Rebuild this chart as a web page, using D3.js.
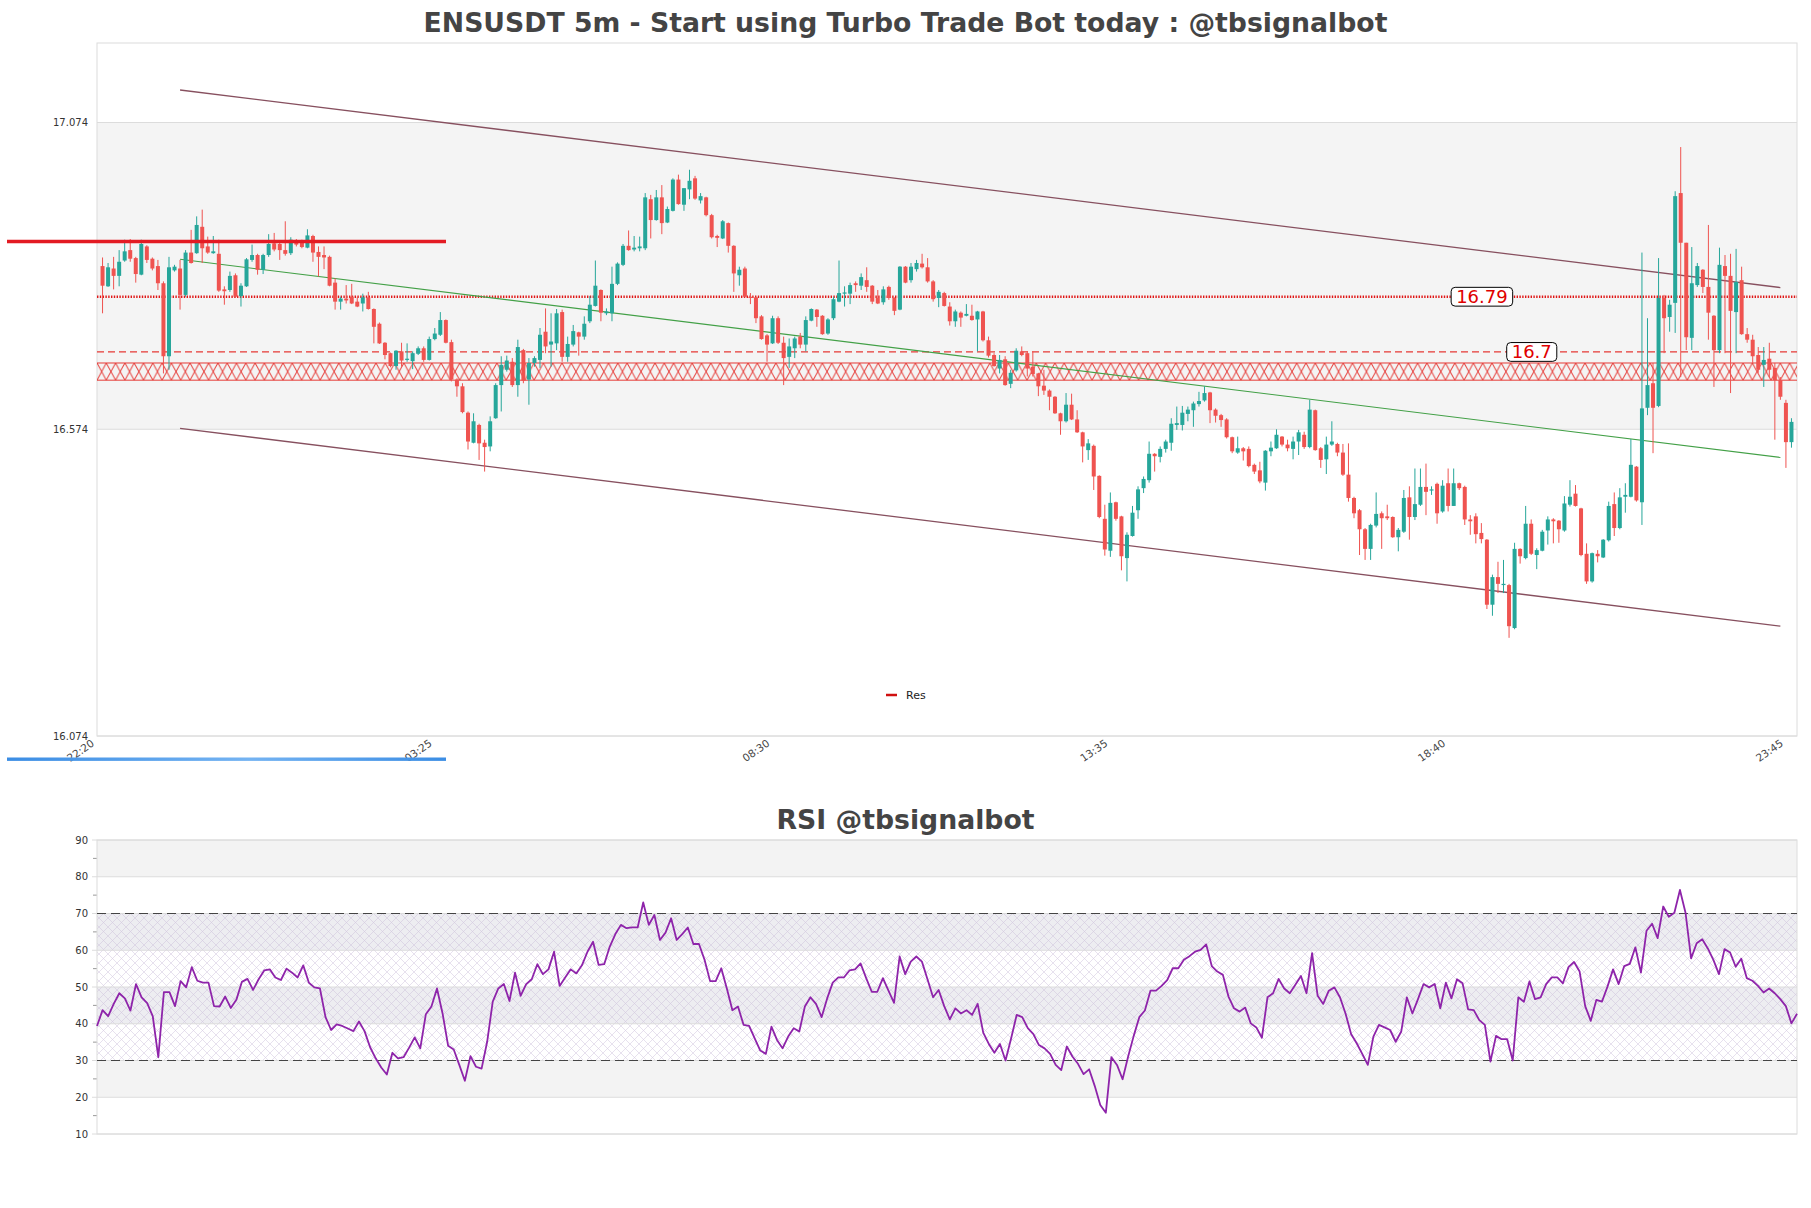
<!DOCTYPE html>
<html><head><meta charset="utf-8">
<script src="https://cdnjs.cloudflare.com/ajax/libs/d3/7.8.5/d3.min.js"></script>
<style>
html,body{margin:0;padding:0;background:#fff;}
svg{display:block;font-family:"DejaVu Sans",sans-serif;}
</style></head><body>
<svg id="c" width="1811" height="1208"></svg>
<script>
// ---------- DATA ----------
const tickLabels = ["22:20","03:25","08:30","13:35","18:40","23:45"];
const tickIndex  = [-1, 60, 121, 182, 243, 304];
const priceTicks = [16.074, 16.574, 17.074];

const opens = [
16.840,16.807,16.836,16.824,16.849,16.866,16.853,16.826,16.872,16.852,
16.840,16.812,16.693,16.833,16.836,16.793,16.862,16.861,16.904,16.872,
16.861,16.860,16.802,16.801,16.825,16.791,16.807,16.850,16.858,16.834,
16.858,16.877,16.876,16.866,16.861,16.882,16.878,16.870,16.889,16.863,
16.858,16.855,16.813,16.782,16.787,16.790,16.782,16.779,16.789,16.770,
16.746,16.715,16.698,16.677,16.701,16.687,16.685,16.697,16.706,16.687,
16.721,16.728,16.752,16.716,16.655,16.644,16.601,16.552,16.581,16.552,
16.546,16.592,16.646,16.671,16.684,16.646,16.703,16.655,16.682,16.687,
16.733,16.712,16.714,16.765,16.692,16.712,16.732,16.725,16.750,16.775,
16.801,16.763,16.763,16.811,16.842,16.873,16.867,16.869,16.869,16.949,
16.915,16.952,16.911,16.930,16.981,16.940,16.965,16.983,16.947,16.952,
16.923,16.889,16.885,16.910,16.873,16.825,16.836,16.790,16.789,16.758,
16.727,16.714,16.755,16.715,16.692,16.706,16.725,16.712,16.751,16.769,
16.759,16.730,16.755,16.782,16.795,16.795,16.812,16.808,16.817,16.808,
16.788,16.781,16.806,16.788,16.769,16.839,16.817,16.835,16.844,16.838,
16.815,16.788,16.796,16.774,16.750,16.764,16.759,16.759,16.753,16.766,
16.719,16.695,16.673,16.688,16.648,16.670,16.701,16.698,16.676,16.665,
16.645,16.637,16.627,16.600,16.587,16.614,16.590,16.569,16.540,16.547,
16.498,16.428,16.376,16.455,16.432,16.364,16.400,16.442,16.478,16.491,
16.534,16.529,16.542,16.552,16.581,16.581,16.599,16.605,16.615,16.621,
16.634,16.606,16.597,16.590,16.561,16.536,16.543,16.542,16.516,16.507,
16.487,16.538,16.543,16.562,16.549,16.542,16.554,16.565,16.545,16.605,
16.543,16.525,16.549,16.550,16.536,16.500,16.462,16.442,16.411,16.379,
16.417,16.437,16.432,16.431,16.398,16.407,16.463,16.431,16.451,16.480,
16.475,16.485,16.440,16.486,16.449,16.486,16.480,16.427,16.432,16.405,
16.394,16.288,16.333,16.320,16.320,16.250,16.379,16.364,16.420,16.369,
16.376,16.409,16.427,16.425,16.409,16.451,16.469,16.445,16.371,16.326,
16.371,16.365,16.393,16.452,16.413,16.464,16.464,16.513,16.455,16.609,
16.649,16.612,16.788,16.757,16.780,16.959,16.878,16.723,16.809,16.834,
16.806,16.759,16.703,16.840,16.824,16.765,16.817,16.729,16.720,16.695,
16.679,16.689,16.674,16.654,16.617,16.553];

const highs = [
16.854,16.845,16.855,16.866,16.883,16.884,16.855,16.883,16.874,16.854,
16.850,16.815,16.855,16.842,16.850,16.866,16.899,16.921,16.932,16.888,
16.889,16.883,16.807,16.831,16.828,16.812,16.853,16.875,16.860,16.860,
16.892,16.894,16.880,16.913,16.887,16.884,16.883,16.900,16.891,16.872,
16.872,16.857,16.820,16.790,16.809,16.811,16.790,16.795,16.798,16.771,
16.748,16.716,16.699,16.703,16.715,16.714,16.701,16.709,16.709,16.725,
16.739,16.765,16.753,16.720,16.657,16.649,16.603,16.600,16.583,16.557,
16.595,16.649,16.693,16.694,16.690,16.720,16.705,16.690,16.693,16.739,
16.771,16.763,16.770,16.769,16.725,16.744,16.733,16.758,16.791,16.849,
16.802,16.771,16.839,16.846,16.876,16.898,16.889,16.888,16.959,16.956,
16.964,16.972,16.937,16.983,16.989,16.967,16.997,16.987,16.959,16.953,
16.925,16.891,16.915,16.911,16.874,16.839,16.839,16.796,16.790,16.760,
16.729,16.759,16.758,16.725,16.722,16.725,16.731,16.758,16.771,16.770,
16.760,16.755,16.790,16.849,16.807,16.813,16.815,16.828,16.838,16.809,
16.801,16.807,16.808,16.789,16.840,16.840,16.845,16.850,16.860,16.853,
16.817,16.801,16.798,16.781,16.769,16.766,16.778,16.777,16.767,16.767,
16.725,16.698,16.695,16.693,16.671,16.706,16.709,16.701,16.701,16.666,
16.671,16.639,16.628,16.601,16.633,16.632,16.605,16.570,16.558,16.549,
16.499,16.451,16.471,16.456,16.433,16.406,16.449,16.481,16.497,16.554,
16.535,16.546,16.557,16.592,16.611,16.612,16.611,16.619,16.635,16.644,
16.635,16.608,16.599,16.592,16.562,16.562,16.545,16.546,16.518,16.521,
16.540,16.554,16.574,16.563,16.557,16.562,16.573,16.570,16.622,16.606,
16.545,16.562,16.587,16.552,16.550,16.551,16.464,16.444,16.413,16.420,
16.471,16.440,16.451,16.432,16.413,16.475,16.481,16.510,16.510,16.518,
16.481,16.487,16.491,16.510,16.510,16.487,16.482,16.434,16.437,16.421,
16.395,16.337,16.358,16.361,16.322,16.389,16.380,16.449,16.427,16.380,
16.410,16.432,16.429,16.426,16.465,16.491,16.483,16.446,16.388,16.373,
16.377,16.395,16.456,16.471,16.478,16.486,16.558,16.514,16.862,16.755,
16.682,16.853,16.793,16.785,16.962,17.034,16.878,16.871,16.845,16.835,
16.907,16.760,16.870,16.858,16.860,16.868,16.839,16.739,16.728,16.708,
16.708,16.715,16.682,16.659,16.622,16.592];

const lows = [
16.763,16.806,16.802,16.807,16.847,16.847,16.813,16.825,16.845,16.833,
16.801,16.665,16.671,16.831,16.769,16.790,16.844,16.860,16.845,16.860,
16.860,16.798,16.777,16.798,16.788,16.774,16.806,16.847,16.826,16.827,
16.855,16.864,16.850,16.857,16.858,16.872,16.869,16.869,16.847,16.823,
16.835,16.807,16.769,16.769,16.779,16.778,16.773,16.766,16.769,16.714,
16.713,16.688,16.675,16.671,16.676,16.684,16.672,16.695,16.684,16.686,
16.719,16.726,16.714,16.652,16.627,16.600,16.541,16.551,16.524,16.505,
16.538,16.591,16.603,16.668,16.643,16.627,16.649,16.614,16.676,16.674,
16.698,16.676,16.703,16.684,16.684,16.709,16.694,16.720,16.747,16.774,
16.750,16.760,16.750,16.809,16.840,16.865,16.864,16.864,16.866,16.885,
16.914,16.892,16.910,16.929,16.940,16.930,16.949,16.948,16.942,16.921,
16.885,16.871,16.884,16.862,16.798,16.808,16.789,16.778,16.747,16.720,
16.684,16.713,16.713,16.646,16.674,16.690,16.706,16.701,16.750,16.741,
16.728,16.728,16.752,16.781,16.774,16.778,16.798,16.801,16.798,16.778,
16.778,16.777,16.785,16.760,16.768,16.812,16.813,16.831,16.836,16.813,
16.782,16.773,16.774,16.743,16.741,16.741,16.758,16.751,16.701,16.717,
16.691,16.676,16.665,16.645,16.641,16.668,16.693,16.660,16.660,16.628,
16.630,16.605,16.599,16.565,16.585,16.589,16.568,16.520,16.524,16.475,
16.429,16.368,16.366,16.425,16.344,16.326,16.399,16.428,16.470,16.487,
16.505,16.520,16.536,16.539,16.573,16.572,16.587,16.578,16.611,16.619,
16.584,16.585,16.578,16.559,16.535,16.534,16.523,16.512,16.501,16.486,
16.474,16.530,16.542,16.546,16.538,16.525,16.532,16.542,16.543,16.539,
16.511,16.501,16.547,16.530,16.498,16.456,16.429,16.369,16.361,16.361,
16.414,16.379,16.426,16.397,16.375,16.405,16.394,16.426,16.449,16.434,
16.467,16.420,16.438,16.440,16.449,16.475,16.418,16.402,16.388,16.388,
16.281,16.270,16.307,16.307,16.234,16.248,16.355,16.362,16.369,16.346,
16.375,16.386,16.388,16.389,16.407,16.448,16.448,16.367,16.322,16.324,
16.357,16.364,16.391,16.400,16.411,16.438,16.463,16.456,16.418,16.597,
16.535,16.610,16.698,16.733,16.731,16.659,16.703,16.703,16.806,16.796,
16.720,16.643,16.698,16.698,16.633,16.698,16.728,16.715,16.682,16.666,
16.643,16.659,16.557,16.622,16.511,16.544];

const closes = [
16.808,16.838,16.824,16.847,16.864,16.852,16.827,16.876,16.850,16.836,
16.812,16.693,16.838,16.839,16.793,16.862,16.845,16.907,16.869,16.862,
16.864,16.800,16.799,16.824,16.790,16.808,16.851,16.858,16.834,16.858,
16.876,16.867,16.866,16.860,16.883,16.875,16.871,16.890,16.862,16.855,
16.854,16.808,16.782,16.787,16.784,16.779,16.774,16.789,16.770,16.741,
16.714,16.695,16.677,16.702,16.686,16.689,16.698,16.706,16.687,16.721,
16.730,16.752,16.715,16.655,16.644,16.602,16.554,16.587,16.551,16.545,
16.587,16.646,16.679,16.686,16.646,16.708,16.653,16.682,16.690,16.728,
16.709,16.717,16.763,16.692,16.713,16.734,16.725,16.746,16.777,16.808,
16.764,16.766,16.811,16.844,16.873,16.866,16.870,16.872,16.952,16.915,
16.952,16.910,16.933,16.981,16.941,16.967,16.979,16.950,16.954,16.923,
16.887,16.886,16.913,16.873,16.828,16.834,16.790,16.788,16.755,16.721,
16.712,16.755,16.715,16.690,16.709,16.722,16.712,16.752,16.770,16.757,
16.729,16.753,16.786,16.796,16.797,16.809,16.809,16.822,16.806,16.782,
16.779,16.802,16.788,16.767,16.839,16.813,16.839,16.845,16.838,16.815,
16.786,16.798,16.775,16.750,16.766,16.756,16.762,16.752,16.766,16.719,
16.694,16.677,16.687,16.646,16.666,16.702,16.695,16.673,16.664,16.644,
16.637,16.627,16.600,16.587,16.614,16.590,16.569,16.546,16.551,16.497,
16.431,16.378,16.454,16.428,16.367,16.402,16.438,16.476,16.493,16.534,
16.530,16.542,16.554,16.583,16.584,16.601,16.606,16.616,16.620,16.633,
16.605,16.596,16.589,16.561,16.538,16.543,16.538,16.514,16.505,16.489,
16.539,16.544,16.565,16.549,16.543,16.554,16.569,16.545,16.606,16.540,
16.524,16.549,16.554,16.536,16.500,16.462,16.437,16.411,16.379,16.418,
16.436,16.429,16.429,16.398,16.410,16.462,16.431,16.452,16.480,16.472,
16.476,16.437,16.482,16.449,16.486,16.478,16.427,16.424,16.403,16.395,
16.288,16.333,16.322,16.322,16.253,16.379,16.367,16.420,16.371,16.377,
16.407,16.427,16.424,16.411,16.453,16.464,16.449,16.369,16.326,16.372,
16.367,16.394,16.449,16.413,16.463,16.467,16.516,16.458,16.608,16.646,
16.609,16.788,16.755,16.777,16.954,16.878,16.724,16.812,16.840,16.806,
16.764,16.703,16.842,16.824,16.767,16.814,16.729,16.720,16.693,16.671,
16.687,16.671,16.654,16.627,16.553,16.586];

const rsi = [
39.4,43.7,42.1,45.4,48.3,46.9,43.6,50.8,47.2,45.6,
42.1,30.9,48.6,48.6,44.8,51.6,49.9,55.4,51.7,51.2,
51.2,44.8,44.7,47.4,44.3,46.5,51.4,52.2,49.2,52.1,
54.5,54.8,52.6,51.9,55.0,53.9,52.6,55.9,51.2,49.9,
49.6,41.8,38.3,39.8,39.4,38.7,38.0,40.6,38.0,33.6,
30.6,28.1,26.2,32.1,30.6,30.9,33.5,36.3,33.3,42.6,
44.7,49.6,42.8,34.0,33.0,28.8,24.5,31.2,28.3,27.8,
35.1,46.0,49.6,50.8,46.2,53.9,47.6,50.8,52.1,56.2,
53.5,54.8,59.6,50.3,52.6,54.8,53.7,55.9,59.6,62.3,
56.0,56.2,61.0,64.4,66.9,66.0,66.2,66.2,73.0,66.9,
69.6,62.8,64.8,68.7,62.8,64.4,66.2,61.7,61.7,57.4,
51.6,51.6,55.1,49.6,43.7,44.7,39.7,39.4,36.0,32.7,
31.8,39.2,35.6,33.3,36.5,38.8,37.9,44.7,47.2,45.4,
41.8,46.9,51.2,52.6,52.6,54.5,54.8,56.4,52.4,48.7,
48.7,52.4,49.0,45.7,58.3,53.5,56.9,58.3,56.9,52.1,
47.2,49.2,44.8,41.2,44.2,42.8,43.7,42.4,45.4,37.6,
34.5,32.1,34.5,30.0,36.0,42.4,41.8,38.8,37.2,34.2,
33.3,31.8,28.8,27.4,33.8,31.1,29.1,26.3,27.6,23.1,
17.9,15.8,30.9,28.8,24.9,31.1,36.7,41.8,43.6,49.0,
49.0,50.3,51.9,55.1,55.1,57.4,58.4,59.6,60.1,61.6,
55.7,54.2,53.3,47.4,44.2,43.3,44.4,40.1,39.0,36.2,
47.2,48.3,52.2,49.6,48.3,50.6,53.0,48.3,59.2,47.6,
45.4,49.0,49.9,47.2,42.8,37.2,34.7,31.8,28.8,36.5,
39.7,39.0,38.3,35.1,37.9,47.2,42.8,46.7,50.8,49.9,
50.8,44.2,51.2,46.9,52.1,51.0,43.9,43.7,41.0,39.7,
29.7,36.7,35.8,35.8,30.0,47.2,46.0,51.5,46.7,47.2,
50.8,52.6,52.6,51.0,55.4,56.8,54.2,44.8,40.8,46.5,
46.0,50.1,54.8,50.8,55.7,56.3,60.8,53.9,65.3,67.2,
63.3,71.9,69.1,70.2,76.4,70.2,57.8,61.9,63.0,60.5,
57.4,53.5,60.3,59.4,55.5,57.7,52.4,51.7,50.3,48.5,
49.6,48.3,46.7,44.8,40.1,42.7];

// annotation values
const resLevels   = [16.79, 16.7];
const resLabels   = ["16.79", "16.7"];
const zoneBounds  = [16.654, 16.682];
const channelUpper = [[14, 17.127], [303, 16.805]];
const channelLower = [[14, 16.5755], [303, 16.253]];
const trendLine    = [[14, 16.851], [303, 16.528]];
const rsiTicks = [10,20,30,40,50,60,70,80,90];
const rsiBands = [[80,90,"#f3f3f3"],[60,70,"#ededf1"],[40,50,"#ededf1"],[20,30,"#f3f3f3"]];

// ---------- LAYOUT ----------
const svg = d3.select("#c");
const P = {l:97, r:1797, t:43, b:736};
const Q = {t:840, b:1134};
const N = closes.length;

const x  = d3.scaleLinear().domain([-1, 306]).range([P.l, P.r]);
const y  = d3.scaleLinear().domain([16.074, 17.2036]).range([P.b, P.t]);
const xr = d3.scaleLinear().domain([0, rsi.length - 1]).range([P.l, P.r]);
const yr = d3.scaleLinear().domain([10, 90]).range([Q.b, Q.t]);

const defs = svg.append("defs");
const zTop = y(zoneBounds[1]), zBot = y(zoneBounds[0]), zH = zBot - zTop;
const zp = defs.append("pattern").attr("id","zoneHatch").attr("patternUnits","userSpaceOnUse")
  .attr("x", P.l).attr("y", zTop).attr("width", 9.3).attr("height", zH);
zp.append("path").attr("d", `M0,0L9.3,${zH}M9.3,0L0,${zH}`).attr("stroke","#e53935").attr("stroke-width",1).attr("fill","none");
const rp = defs.append("pattern").attr("id","rsiHatch").attr("patternUnits","userSpaceOnUse")
  .attr("width", 9).attr("height", 9);
rp.append("path").attr("d","M0,0L9,9M9,0L0,9").attr("stroke","#c9bcd8").attr("stroke-width",0.6).attr("fill","none");
const bg = defs.append("linearGradient").attr("id","blueGrad");
bg.append("stop").attr("offset","0%").attr("stop-color","#3b8de4");
bg.append("stop").attr("offset","55%").attr("stop-color","#74b3f2");
bg.append("stop").attr("offset","100%").attr("stop-color","#3b8de4");

// ---------- TITLES ----------
svg.append("text").attr("x", 905.5).attr("y", 32).attr("text-anchor","middle")
  .attr("font-size", 26.7).attr("font-weight","bold").attr("fill","#444")
  .text("ENSUSDT 5m - Start using Turbo Trade Bot today : @tbsignalbot");
svg.append("text").attr("x", 905.5).attr("y", 829).attr("text-anchor","middle")
  .attr("font-size", 26.7).attr("font-weight","bold").attr("fill","#444")
  .text("RSI @tbsignalbot");

// ---------- MAIN PLOT ----------
const g = svg.append("g");
g.append("rect").attr("x",P.l).attr("y",P.t).attr("width",P.r-P.l).attr("height",P.b-P.t).attr("fill","#fff");
g.append("rect").attr("x",P.l).attr("y",y(priceTicks[2])).attr("width",P.r-P.l)
  .attr("height", y(priceTicks[1]) - y(priceTicks[2])).attr("fill","#f4f4f4");
priceTicks.forEach(v => {
  g.append("line").attr("x1",P.l).attr("x2",P.r).attr("y1",y(v)).attr("y2",y(v))
   .attr("stroke","#dcdcdc").attr("stroke-width",1);
  g.append("text").attr("x", 88).attr("y", y(v)).attr("dy","0.35em").attr("text-anchor","end")
   .attr("font-size",10).attr("fill","#333").text(v.toFixed(3));
});
g.append("rect").attr("x",P.l).attr("y",P.t).attr("width",P.r-P.l).attr("height",P.b-P.t)
  .attr("fill","none").attr("stroke","#dcdcdc").attr("stroke-width",1);

g.append("rect").attr("x",P.l).attr("y",zTop).attr("width",P.r-P.l).attr("height",zH).attr("fill","url(#zoneHatch)");
[zTop, zBot].forEach(yy => g.append("line").attr("x1",P.l).attr("x2",P.r).attr("y1",yy).attr("y2",yy)
  .attr("stroke","#e53935").attr("stroke-width",1));

g.append("line").attr("x1",P.l).attr("x2",P.r).attr("y1",y(resLevels[0])).attr("y2",y(resLevels[0]))
  .attr("stroke","#e01818").attr("stroke-width",2.6).attr("stroke-dasharray","1.4,1.4");
g.append("line").attr("x1",P.l).attr("x2",P.r).attr("y1",y(resLevels[1])).attr("y2",y(resLevels[1]))
  .attr("stroke","#e53935").attr("stroke-width",1.3).attr("stroke-dasharray","7,4");

const lineGen = d3.line().x(d => x(d[0])).y(d => y(d[1]));
g.append("path").attr("d", lineGen(channelUpper)).attr("stroke","#87505f").attr("stroke-width",1.3).attr("fill","none");
g.append("path").attr("d", lineGen(channelLower)).attr("stroke","#87505f").attr("stroke-width",1.3).attr("fill","none");
g.append("path").attr("d", lineGen(trendLine)).attr("stroke","#43a047").attr("stroke-width",1.1).attr("fill","none");

const up = "#26a69a", dn = "#ef5350";
const cg = g.append("g");
d3.range(N).forEach(i => {
  const o = opens[i], c = closes[i], col = c >= o ? up : dn;
  const cx = x(i);
  cg.append("line").attr("x1",cx).attr("x2",cx).attr("y1",y(highs[i])).attr("y2",y(lows[i]))
    .attr("stroke",col).attr("stroke-width",1);
  const yt = y(Math.max(o,c)), yb = y(Math.min(o,c));
  cg.append("rect").attr("x",cx-2).attr("y",yt).attr("width",4).attr("height",Math.max(1.2, yb-yt)).attr("fill",col);
});

function labelBox(txt, cx, cy) {
  const t = g.append("text").attr("x",cx).attr("y",cy).attr("dy","0.36em").attr("text-anchor","middle")
    .attr("font-size",18).attr("fill","#e00000").text(txt);
  const bb = t.node().getBBox();
  g.insert("rect", () => t.node()).attr("x",bb.x-5).attr("y",cy-9.4).attr("width",bb.width+10).attr("height",18.8)
    .attr("rx",4).attr("fill","#fff").attr("stroke","#000").attr("stroke-width",1);
}
labelBox(resLabels[0], x(249.1), y(resLevels[0]));
labelBox(resLabels[1], x(258.1), y(resLevels[1]));

g.append("line").attr("x1",886).attr("x2",897).attr("y1",695).attr("y2",695).attr("stroke","#d01010").attr("stroke-width",2.5);
g.append("text").attr("x",906).attr("y",695).attr("dy","0.35em").attr("font-size",11).attr("fill","#222").text("Res");

tickIndex.forEach((ti, k) => {
  svg.append("text").attr("text-anchor","end").attr("font-size",10.5).attr("fill","#444")
    .attr("transform", `translate(${x(ti)-2},745) rotate(-35)`).text(tickLabels[k]);
});

svg.append("line").attr("x1",7).attr("x2",446).attr("y1",y(16.88)).attr("y2",y(16.88))
  .attr("stroke","#e31b23").attr("stroke-width",3.5);
svg.append("rect").attr("x",7).attr("y",757.5).attr("width",439).attr("height",3.4).attr("fill","url(#blueGrad)");

// ---------- RSI PLOT ----------
const r = svg.append("g");
rsiBands.forEach(b => r.append("rect").attr("x",P.l).attr("y",yr(b[1])).attr("width",P.r-P.l)
  .attr("height", yr(b[0]) - yr(b[1])).attr("fill", b[2]));
r.append("rect").attr("x",P.l).attr("y",yr(70)).attr("width",P.r-P.l).attr("height",yr(30)-yr(70))
  .attr("fill","url(#rsiHatch)").attr("opacity",0.75);
rsiTicks.forEach(v => {
  r.append("line").attr("x1",P.l-5).attr("x2",P.r).attr("y1",yr(v)).attr("y2",yr(v))
   .attr("stroke","#dcdcdc").attr("stroke-width",1);
  r.append("text").attr("x",88).attr("y",yr(v)).attr("dy","0.35em").attr("text-anchor","end")
   .attr("font-size",10).attr("fill","#333").text(v);
});
d3.range(15, 90, 10).forEach(v => r.append("line").attr("x1",P.l-4).attr("x2",P.l).attr("y1",yr(v)).attr("y2",yr(v))
  .attr("stroke","#999").attr("stroke-width",1));
r.append("rect").attr("x",P.l).attr("y",Q.t).attr("width",P.r-P.l).attr("height",Q.b-Q.t)
  .attr("fill","none").attr("stroke","#dcdcdc").attr("stroke-width",1);
[70,30].forEach(v => r.append("line").attr("x1",P.l).attr("x2",P.r).attr("y1",yr(v)).attr("y2",yr(v))
  .attr("stroke","#444").attr("stroke-width",1.2).attr("stroke-dasharray","9,5"));
r.append("path").attr("d", d3.line().x((d,i)=>xr(i)).y(d=>yr(d))(rsi))
  .attr("stroke","#8e24aa").attr("stroke-width",1.8).attr("fill","none").attr("stroke-linejoin","round");
</script>
</body></html>
